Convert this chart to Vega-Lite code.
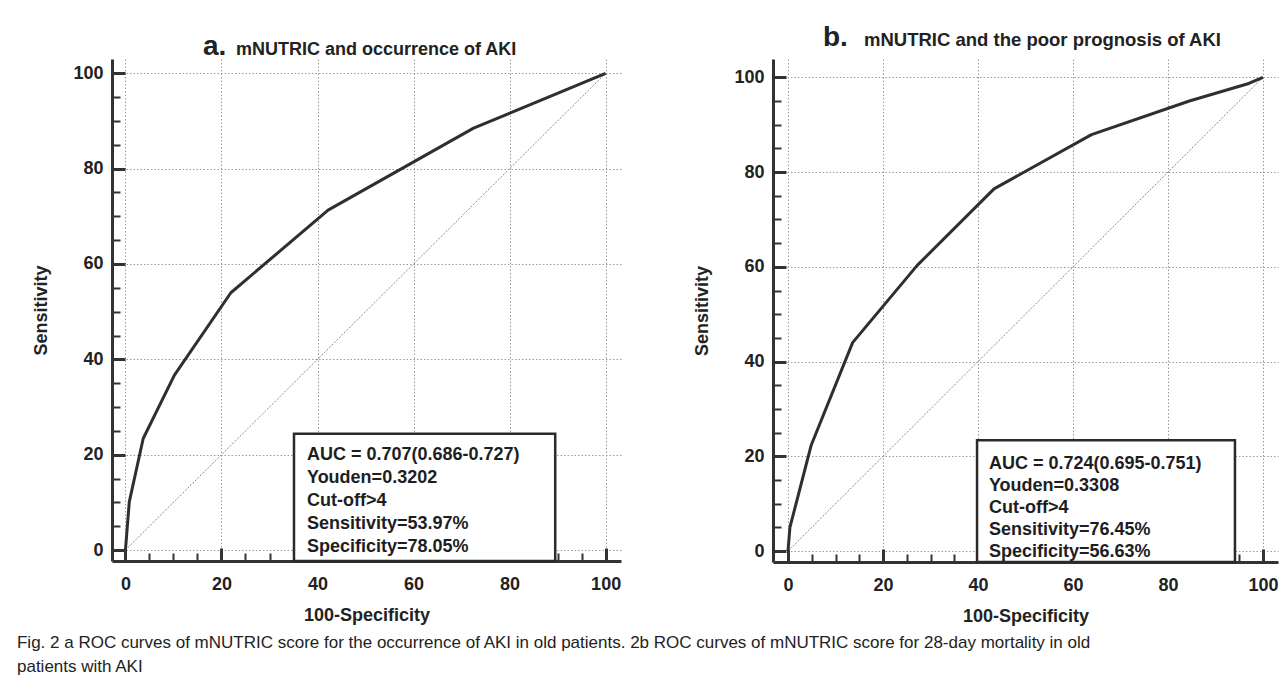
{
  "$schema": "https://vega.github.io/schema/vega-lite/v6.json",
  "padding": {"left": 16, "top": 24, "right": 5, "bottom": 5},
  "background": "white",
  "config": {
    "view": {"stroke": null},
    "font": "Liberation Sans",
    "axis": {
      "domainColor": "#333333",
      "tickColor": "#333333",
      "labelFont": "Liberation Sans",
      "labelFontSize": 18,
      "labelFontWeight": "bold",
      "labelColor": "#222222",
      "titleFont": "Liberation Sans",
      "titleFontSize": 18,
      "titleFontWeight": "bold",
      "titleColor": "#222222",
      "gridColor": "#9a9a9a",
      "gridDash": [1.5, 2],
      "gridWidth": 1
    }
  },
  "datasets": {
    "rocA": [
      {"fpr": 0, "tpr": 0},
      {"fpr": 0.8, "tpr": 10.1},
      {"fpr": 3.7, "tpr": 23.4},
      {"fpr": 10.2, "tpr": 36.7},
      {"fpr": 21.95, "tpr": 53.97},
      {"fpr": 42.2, "tpr": 71.3},
      {"fpr": 72.5, "tpr": 88.5},
      {"fpr": 100, "tpr": 100}
    ],
    "rocB": [
      {"fpr": 0, "tpr": 0},
      {"fpr": 0.4, "tpr": 5},
      {"fpr": 4.9, "tpr": 22.4},
      {"fpr": 13.6, "tpr": 44},
      {"fpr": 27.2, "tpr": 60.3},
      {"fpr": 43.37, "tpr": 76.45},
      {"fpr": 63.9, "tpr": 87.9},
      {"fpr": 84.5, "tpr": 95},
      {"fpr": 97, "tpr": 98.7},
      {"fpr": 100, "tpr": 100}
    ],
    "diag": [{"fpr": 0, "tpr": 0}, {"fpr": 100, "tpr": 100}],
    "statsA": [{"stats": ["AUC = 0.707(0.686-0.727)", "Youden=0.3202", "Cut-off>4", "Sensitivity=53.97%", "Specificity=78.05%"]}],
    "statsB": [{"stats": ["AUC = 0.724(0.695-0.751)", "Youden=0.3308", "Cut-off>4", "Sensitivity=76.45%", "Specificity=56.63%"]}],
    "headA": [{"letter": "a.", "heading": "mNUTRIC and occurrence of AKI"}],
    "headB": [{"letter": "b.", "heading": "mNUTRIC and the poor prognosis of AKI"}]
  },
  "bounds": "flush",
  "spacing": 152,
  "title": {
    "text": ["Fig. 2  a ROC curves of mNUTRIC score for the occurrence of AKI in old patients. 2b ROC curves of mNUTRIC score for 28-day mortality in old", "patients with AKI"],
    "orient": "bottom",
    "anchor": "start",
    "frame": "bounds",
    "font": "Liberation Sans",
    "fontSize": 17,
    "fontWeight": "normal",
    "color": "#222222",
    "lineHeight": 24,
    "offset": 10,
    "dx": -16
  },
  "hconcat": [
    {
      "width": 509,
      "height": 502,
      "resolve": {"axis": {"x": "independent", "y": "independent"}},
      "layer": [
        {
          "data": {"name": "diag"},
          "mark": {"type": "line", "color": "#8a8a8a", "strokeWidth": 1, "strokeDash": [2, 1.5]},
          "encoding": {
            "x": {"field": "fpr", "type": "quantitative", "scale": {"domain": [-2.8, 103.2], "nice": false, "zero": false},
              "axis": {"orient": "bottom", "values": [5, 10, 15, 25, 30, 35, 45, 50, 55, 65, 70, 75, 85, 90, 95], "title": null, "labels": false, "domain": false, "grid": false, "tickSize": -8, "tickWidth": 2}},
            "y": {"field": "tpr", "type": "quantitative", "scale": {"domain": [-2.3, 103], "nice": false, "zero": false},
              "axis": {"orient": "left", "values": [5, 10, 15, 25, 30, 35, 45, 50, 55, 65, 70, 75, 85, 90, 95], "title": null, "labels": false, "domain": false, "grid": false, "tickSize": -8, "tickWidth": 2}}
          }
        },
        {
          "data": {"name": "rocA"},
          "mark": {"type": "line", "color": "#2f2f2f", "strokeWidth": 3, "strokeJoin": "round"},
          "encoding": {
            "x": {"field": "fpr", "type": "quantitative",
              "axis": {"orient": "bottom", "values": [0, 20, 40, 60, 80, 100], "title": "100-Specificity", "grid": true, "domainWidth": 3, "tickSize": -13, "tickWidth": 3, "labelPadding": 27, "titlePadding": 13, "labelFlush": false, "labelOverlap": false}},
            "y": {"field": "tpr", "type": "quantitative",
              "axis": {"orient": "left", "values": [0, 20, 40, 60, 80, 100], "title": "Sensitivity", "grid": true, "domainWidth": 3, "tickSize": -13, "tickWidth": 3, "labelPadding": 22, "titlePadding": 22, "labelFlush": false, "labelOverlap": false}}
          }
        },
        {
          "data": {"values": [{}]},
          "mark": {"type": "rect", "fill": "white", "stroke": "#2a2a2a", "strokeWidth": 2.5},
          "encoding": {
            "x": {"datum": 35.1, "type": "quantitative", "axis": null},
            "x2": {"datum": 89.5},
            "y": {"datum": -2.3, "type": "quantitative", "axis": null},
            "y2": {"datum": 24.4}
          }
        },
        {
          "data": {"name": "statsA"},
          "mark": {"type": "text", "align": "left", "baseline": "top", "font": "Liberation Sans", "fontSize": 18, "fontWeight": "bold", "color": "#1e1e1e", "lineHeight": 23},
          "encoding": {
            "text": {"field": "stats", "type": "nominal"},
            "x": {"datum": 37.8, "type": "quantitative", "axis": null},
            "y": {"datum": 21.9, "type": "quantitative", "axis": null}
          }
        },
        {
          "data": {"name": "headA"},
          "mark": {"type": "text", "align": "right", "baseline": "alphabetic", "font": "Liberation Sans", "fontSize": 28, "fontWeight": "bold", "color": "#222222"},
          "encoding": {
            "text": {"field": "letter", "type": "nominal"},
            "x": {"datum": 21.0, "type": "quantitative", "axis": null},
            "y": {"datum": 103.85, "type": "quantitative", "axis": null}
          }
        },
        {
          "data": {"name": "headA"},
          "mark": {"type": "text", "align": "left", "baseline": "alphabetic", "font": "Liberation Sans", "fontSize": 18, "fontWeight": "bold", "color": "#222222"},
          "encoding": {
            "text": {"field": "heading", "type": "nominal"},
            "x": {"datum": 23.0, "type": "quantitative", "axis": null},
            "y": {"datum": 103.85, "type": "quantitative", "axis": null}
          }
        }
      ]
    },
    {
      "width": 505,
      "height": 503,
      "resolve": {"axis": {"x": "independent", "y": "independent"}},
      "layer": [
        {
          "data": {"name": "diag"},
          "mark": {"type": "line", "color": "#8a8a8a", "strokeWidth": 1, "strokeDash": [2, 1.5]},
          "encoding": {
            "x": {"field": "fpr", "type": "quantitative", "scale": {"domain": [-3.16, 103.16], "nice": false, "zero": false},
              "axis": {"orient": "bottom", "values": [5, 10, 15, 25, 30, 35, 45, 50, 55, 65, 70, 75, 85, 90, 95], "title": null, "labels": false, "domain": false, "grid": false, "tickSize": -8, "tickWidth": 2}},
            "y": {"field": "tpr", "type": "quantitative", "scale": {"domain": [-2.3, 103.86], "nice": false, "zero": false},
              "axis": {"orient": "left", "values": [5, 10, 15, 25, 30, 35, 45, 50, 55, 65, 70, 75, 85, 90, 95], "title": null, "labels": false, "domain": false, "grid": false, "tickSize": -8, "tickWidth": 2}}
          }
        },
        {
          "data": {"name": "rocB"},
          "mark": {"type": "line", "color": "#2f2f2f", "strokeWidth": 3, "strokeJoin": "round"},
          "encoding": {
            "x": {"field": "fpr", "type": "quantitative",
              "axis": {"orient": "bottom", "values": [0, 20, 40, 60, 80, 100], "title": "100-Specificity", "grid": true, "domainWidth": 3, "tickSize": -13, "tickWidth": 3, "labelPadding": 27, "titlePadding": 13, "labelFlush": false, "labelOverlap": false}},
            "y": {"field": "tpr", "type": "quantitative",
              "axis": {"orient": "left", "values": [0, 20, 40, 60, 80, 100], "title": "Sensitivity", "grid": true, "domainWidth": 3, "tickSize": -13, "tickWidth": 3, "labelPadding": 22, "titlePadding": 22, "labelFlush": false, "labelOverlap": false}}
          }
        },
        {
          "data": {"values": [{}]},
          "mark": {"type": "rect", "fill": "white", "stroke": "#2a2a2a", "strokeWidth": 2.5},
          "encoding": {
            "x": {"datum": 39.8, "type": "quantitative", "axis": null},
            "x2": {"datum": 94.1},
            "y": {"datum": -2.3, "type": "quantitative", "axis": null},
            "y2": {"datum": 23.4}
          }
        },
        {
          "data": {"name": "statsB"},
          "mark": {"type": "text", "align": "left", "baseline": "top", "font": "Liberation Sans", "fontSize": 18, "fontWeight": "bold", "color": "#1e1e1e", "lineHeight": 22},
          "encoding": {
            "text": {"field": "stats", "type": "nominal"},
            "x": {"datum": 42.3, "type": "quantitative", "axis": null},
            "y": {"datum": 20.3, "type": "quantitative", "axis": null}
          }
        },
        {
          "data": {"name": "headB"},
          "mark": {"type": "text", "align": "right", "baseline": "alphabetic", "font": "Liberation Sans", "fontSize": 28, "fontWeight": "bold", "color": "#222222"},
          "encoding": {
            "text": {"field": "letter", "type": "nominal"},
            "x": {"datum": 12.6, "type": "quantitative", "axis": null},
            "y": {"datum": 106.6, "type": "quantitative", "axis": null}
          }
        },
        {
          "data": {"name": "headB"},
          "mark": {"type": "text", "align": "left", "baseline": "alphabetic", "font": "Liberation Sans", "fontSize": 18.5, "fontWeight": "bold", "color": "#222222"},
          "encoding": {
            "text": {"field": "heading", "type": "nominal"},
            "x": {"datum": 16.0, "type": "quantitative", "axis": null},
            "y": {"datum": 106.6, "type": "quantitative", "axis": null}
          }
        }
      ]
    }
  ]
}
